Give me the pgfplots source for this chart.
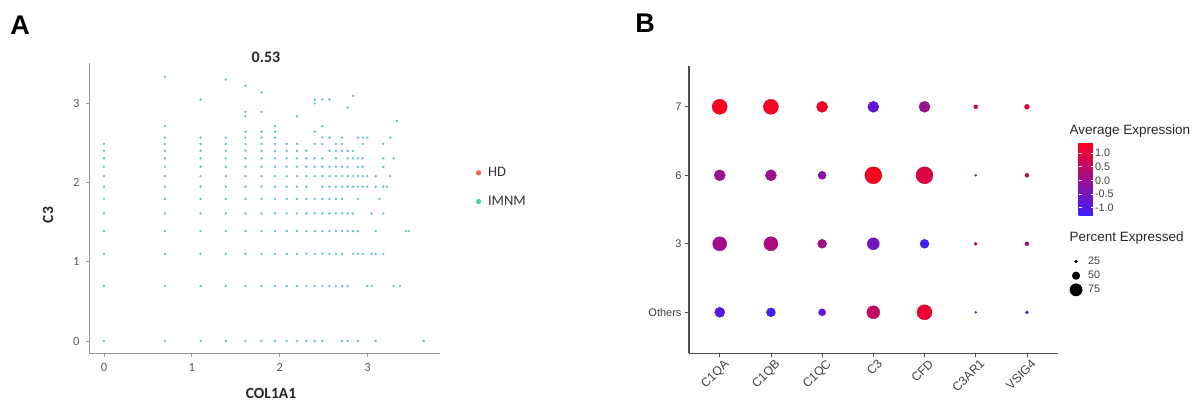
\documentclass[border=0pt]{standalone}
\usepackage{pgfplots}
\pgfplotsset{compat=1.18}
\usepackage{fontspec}
\setmainfont{Liberation Sans}
\newfontfamily\calfont{Carlito}
\definecolor{dotA}{RGB}{105,198,210}
\definecolor{hdcol}{RGB}{232,100,80}
\definecolor{imcol}{RGB}{70,214,160}
\begin{document}
\begin{tikzpicture}[x=1pt,y=1pt]
\path[use as bounding box] (0,0) rectangle (1200,401);
% ---------------- Panel A ----------------
\begin{axis}[
  at={(89pt,47pt)}, anchor=south west,
  x=87.9pt, y=79.3pt,
  xmin=-0.17, xmax=3.82, ymin=-0.164, ymax=3.51,
  axis x line*=bottom, axis y line*=left,
  axis line style={draw=black!40, line width=1pt, -},
  xtick={0,1,2,3}, ytick={0,1,2,3},
  tick align=outside, major tick length=3pt,
  every tick/.style={black!40, line width=0.8pt},
  ticklabel style={font=\calfont\fontsize{12.5}{12.5}\selectfont, text=black!65},
  xticklabel style={yshift=-3pt},
  yticklabel style={xshift=-3pt},
  /pgf/number format/assume math mode=true,
  clip=false,
  legend style={at={(1.095,0.655)}, anchor=north west, draw=none, fill=none,
     font=\calfont\fontsize{14.5}{14.5}\selectfont, text=black!80, row sep=14pt,
     legend cell align=left,
     /tikz/every odd column/.append style={column sep=5pt}},
]
\addlegendimage{only marks, mark=*, mark size=2.4pt, draw=hdcol, fill=hdcol}
\addlegendentry{HD}
\addlegendimage{only marks, mark=*, mark size=2.4pt, draw=imcol, fill=imcol}
\addlegendentry{IMNM}
\addplot[only marks, mark=*, mark size=1pt, draw=dotA!85!gray, fill=dotA, forget plot] coordinates {
(0,0)(0.693,0)(1.099,0)(1.386,0)(1.609,0)(1.792,0)(1.946,0)(2.079,0)(2.197,0)(2.303,0)(2.398,0)(2.485,0)(2.708,0)(2.773,0)(2.890,0)(3.091,0)(3.638,0)
(0,0.693)(0.693,0.693)(1.099,0.693)(1.386,0.693)(1.609,0.693)(1.792,0.693)(1.946,0.693)(2.079,0.693)(2.197,0.693)(2.303,0.693)(2.398,0.693)(2.485,0.693)(2.565,0.693)(2.639,0.693)(2.708,0.693)(2.773,0.693)(2.996,0.693)(3.045,0.693)(3.296,0.693)(3.367,0.693)
(0,1.099)(0.693,1.099)(1.099,1.099)(1.386,1.099)(1.609,1.099)(1.792,1.099)(1.946,1.099)(2.079,1.099)(2.197,1.099)(2.303,1.099)(2.398,1.099)(2.485,1.099)(2.565,1.099)(2.639,1.099)(2.708,1.099)(2.833,1.099)(2.890,1.099)(2.944,1.099)(3.045,1.099)(3.091,1.099)(3.178,1.099)
(0,1.386)(0.693,1.386)(1.099,1.386)(1.386,1.386)(1.609,1.386)(1.792,1.386)(1.946,1.386)(2.079,1.386)(2.197,1.386)(2.303,1.386)(2.398,1.386)(2.485,1.386)(2.565,1.386)(2.639,1.386)(2.708,1.386)(2.773,1.386)(2.833,1.386)(2.890,1.386)(3.091,1.386)(3.434,1.386)(3.466,1.386)
(0,1.609)(0.693,1.609)(1.099,1.609)(1.386,1.609)(1.609,1.609)(1.792,1.609)(1.946,1.609)(2.079,1.609)(2.197,1.609)(2.303,1.609)(2.398,1.609)(2.485,1.609)(2.565,1.609)(2.639,1.609)(2.708,1.609)(2.773,1.609)(2.833,1.609)(3.045,1.609)(3.178,1.609)
(0,1.792)(0.693,1.792)(1.099,1.792)(1.386,1.792)(1.609,1.792)(1.792,1.792)(1.946,1.792)(2.079,1.792)(2.197,1.792)(2.303,1.792)(2.398,1.792)(2.485,1.792)(2.565,1.792)(2.639,1.792)(2.708,1.792)(2.890,1.792)(3.135,1.792)
(0,1.946)(0.693,1.946)(1.099,1.946)(1.386,1.946)(1.609,1.946)(1.792,1.946)(1.946,1.946)(2.079,1.946)(2.197,1.946)(2.303,1.946)(2.485,1.946)(2.565,1.946)(2.639,1.946)(2.708,1.946)(2.773,1.946)(2.833,1.946)(2.890,1.946)(2.944,1.946)(2.996,1.946)(3.091,1.946)(3.178,1.946)(3.219,1.946)
(0,2.079)(0.693,2.079)(1.099,2.079)(1.386,2.079)(1.609,2.079)(1.792,2.079)(1.946,2.079)(2.079,2.079)(2.197,2.079)(2.303,2.079)(2.398,2.079)(2.485,2.079)(2.565,2.079)(2.639,2.079)(2.708,2.079)(2.773,2.079)(2.833,2.079)(2.890,2.079)(2.944,2.079)(2.996,2.079)(3.091,2.079)(3.258,2.079)
(0,2.197)(0.693,2.197)(1.099,2.197)(1.386,2.197)(1.609,2.197)(1.792,2.197)(1.946,2.197)(2.079,2.197)(2.197,2.197)(2.303,2.197)(2.398,2.197)(2.485,2.197)(2.565,2.197)(2.639,2.197)(2.708,2.197)(2.773,2.197)(2.890,2.197)(2.944,2.197)(3.178,2.197)
(0,2.303)(0.693,2.303)(1.099,2.303)(1.386,2.303)(1.609,2.303)(1.792,2.303)(1.946,2.303)(2.079,2.303)(2.197,2.303)(2.303,2.303)(2.398,2.303)(2.485,2.303)(2.639,2.303)(2.773,2.303)(2.833,2.303)(2.890,2.303)(2.944,2.303)(3.178,2.303)(3.296,2.303)
(0,2.398)(0.693,2.398)(1.099,2.398)(1.386,2.398)(1.609,2.398)(1.792,2.398)(1.946,2.398)(2.079,2.398)(2.197,2.398)(2.303,2.398)(2.565,2.398)(2.639,2.398)(2.708,2.398)(2.773,2.398)(2.833,2.398)
(0,2.485)(0.693,2.485)(1.099,2.485)(1.386,2.485)(1.609,2.485)(1.792,2.485)(1.946,2.485)(2.079,2.485)(2.197,2.485)(2.398,2.485)(2.485,2.485)(2.639,2.485)(2.708,2.485)(2.944,2.485)(3.178,2.485)
(0.693,2.565)(1.099,2.565)(1.386,2.565)(1.609,2.565)(1.792,2.565)(1.946,2.565)(2.485,2.565)(2.565,2.565)(2.708,2.565)(2.890,2.565)(2.944,2.565)(2.996,2.565)(3.258,2.565)
(1.609,2.639)(1.792,2.639)(1.946,2.639)(2.398,2.639)
(0.693,2.708)(1.946,2.708)(2.485,2.708)
(3.332,2.773)
(1.609,2.833)(2.197,2.833)
(1.609,2.890)(1.792,2.890)
(2.773,2.944)
(2.398,2.996)
(1.099,3.045)(2.398,3.045)(2.485,3.045)(2.565,3.045)
(2.833,3.091)
(1.792,3.135)
(1.609,3.219)
(1.386,3.296)
(0.693,3.332)
};
\end{axis}
% ---------------- Panel B ----------------
\begin{axis}[
  at={(689pt,47.6pt)}, anchor=south west,
  x=51.2pt, y=68.5pt,
  xmin=-0.6, xmax=6.6, ymin=-0.6, ymax=3.6,
  axis x line*=bottom, axis y line*=left,
  axis line style={draw=black!70, line width=1.1pt, -},
  xtick={0,...,6}, xticklabels={C1QA,C1QB,C1QC,C3,CFD,C3AR1,VSIG4},
  ytick={0,1,2,3}, yticklabels={Others,3,6,7},
  tick align=outside, major tick length=4pt,
  every tick/.style={black!70, line width=0.8pt},
  xticklabel style={rotate=45, anchor=north east, font=\fontsize{12.2}{12.2}\selectfont, text=black!75, xshift=5pt},
  yticklabel style={font=\fontsize{11}{11}\selectfont, text=black!75},
  colormap={br}{rgb255=(60,30,255) rgb255=(255,0,30)},
  point meta min=-1.32, point meta max=1.38,
  colorbar,
  colorbar style={
    at={(parent axis.south west)}, anchor=north west,
    xshift=381pt, yshift=210.4pt,
    width=15pt, height=73pt,
    ytick={-1,-0.5,0,0.5,1}, yticklabels={-1.0,-0.5,0.0,0.5,1.0},
    yticklabel style={font=\fontsize{10.8}{10.8}\selectfont, text=black!75, xshift=-2pt},
    yticklabel pos=right,
    major tick length=3pt, tick align=inside,
    every tick/.style={white, line width=0.6pt},
    axis line style={draw=none},
  },
  clip=false,
  legend style={at={(1.0245,0.35)}, anchor=north west, draw=none, fill=none,
    font=\fontsize{10.8}{10.8}\selectfont, text=black!75, legend cell align=left,
    row sep=1.2pt,
    /tikz/every odd column/.append style={column sep=4pt}},
]
\addplot[scatter, only marks, mark=*, scatter src=explicit,
  visualization depends on={\thisrow{pct} \as \pct},
  scatter/@pre marker code/.append style={/tikz/mark size={0.095*(\pct-10)}},
  forget plot]
  table[x=g, y=c, meta=avg, row sep=\\] {
  g c avg pct\\
  0 3 1.30 89\\
  1 3 1.30 89\\
  2 3 1.20 68\\
  3 3 -0.80 68\\
  4 3 0.00 68\\
  5 3 0.90 31\\
  6 3 1.00 36\\
  0 2 0.00 68\\
  1 2 0.00 68\\
  2 2 -0.20 52\\
  3 2 1.35 99\\
  4 2 0.90 99\\
  5 2 0.30 20\\
  6 2 0.60 31\\
  0 1 0.10 84\\
  1 1 0.20 84\\
  2 1 0.10 57\\
  3 1 -0.50 73\\
  4 1 -1.25 57\\
  5 1 0.60 26\\
  6 1 0.40 31\\
  0 0 -1.00 63\\
  1 0 -1.20 57\\
  2 0 -0.70 47\\
  3 0 0.50 78\\
  4 0 1.10 89\\
  5 0 -0.60 20\\
  6 0 -1.00 26\\
  };
\addlegendimage{only marks, mark=*, black, mark size=1.43pt}
\addlegendentry{25}
\addlegendimage{only marks, mark=*, black, mark size=3.8pt}
\addlegendentry{50}
\addlegendimage{only marks, mark=*, black, mark size=6.18pt}
\addlegendentry{75}
\end{axis}
% ---------------- Texts ----------------
\node[font=\bfseries\fontsize{27}{27}\selectfont] at (20,376) {A};
\node[font=\bfseries\fontsize{27}{27}\selectfont] at (645,378) {B};
\node[font=\calfont\bfseries\fontsize{16}{16}\selectfont, text=black!85] at (266,344) {0.53};
\node[font=\calfont\bfseries\fontsize{15.5}{15.5}\selectfont, text=black!85] at (271,8) {COL1A1};
\node[font=\calfont\bfseries\fontsize{15.5}{15.5}\selectfont, text=black!85, rotate=90] at (48,186) {C3};
\node[anchor=west, font=\fontsize{13.5}{13.5}\selectfont, text=black!85] at (1066,270) {Average Expression};
\node[anchor=west, font=\fontsize{13.5}{13.5}\selectfont, text=black!85] at (1066,163.3) {Percent Expressed};
\end{tikzpicture}
\end{document}
